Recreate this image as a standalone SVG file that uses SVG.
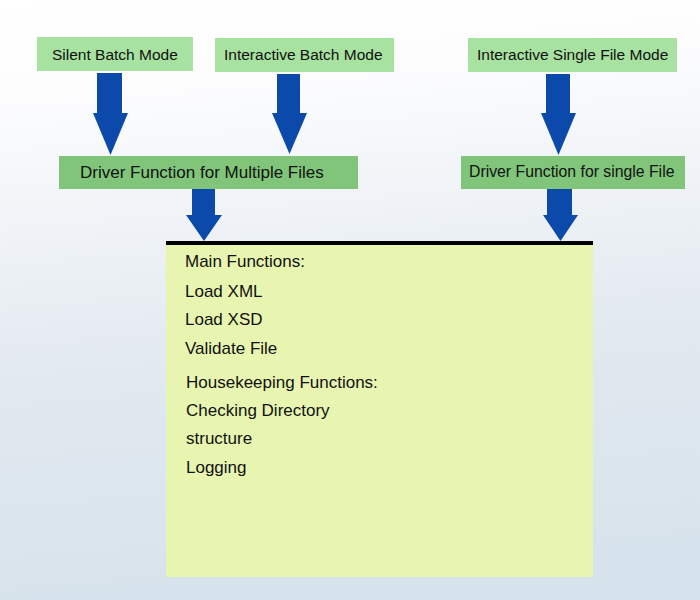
<svg xmlns="http://www.w3.org/2000/svg" width="700" height="600" viewBox="0 0 700 600">
<defs>
<linearGradient id="bg" x1="0" y1="0" x2="0.1" y2="1">
<stop offset="0" stop-color="#ffffff"/>
<stop offset="0.15" stop-color="#fdfdfe"/>
<stop offset="0.6" stop-color="#e3eaf0"/>
<stop offset="1" stop-color="#d7e3ec"/>
</linearGradient>
<style>
.mode{fill:#a8e2a0}
.drv{fill:#80c57a}
.arr{fill:#0b4aab}
text{font-family:"Liberation Sans",Arial,sans-serif;fill:#111}
.t1{font-size:15.5px}
.t2{font-size:17px}
.t3{font-size:16.5px}
</style>
</defs>
<rect x="0" y="0" width="700" height="600" fill="url(#bg)"/>
<g id="silent-batch"><rect class="mode" x="37" y="37" width="156" height="34"/><text class="t1" x="52" y="60">Silent Batch Mode</text></g>
<g id="interactive-batch"><rect class="mode" x="215" y="38" width="179" height="34"/><text class="t1" x="224" y="60">Interactive Batch Mode</text></g>
<g id="interactive-single"><rect class="mode" x="468" y="38" width="209" height="34"/><text class="t1" x="477" y="60">Interactive Single File Mode</text></g>
<g id="driver-multiple"><rect class="drv" x="59" y="156" width="299" height="33"/><text class="t2" x="80" y="178">Driver Function for Multiple Files</text></g>
<g id="driver-single"><rect class="drv" x="461" y="156" width="224" height="33"/><text class="t1" x="469" y="177" style="font-size:15.8px">Driver Function for single File</text></g>
<g id="main">
<rect x="166" y="241" width="427" height="336" fill="#e8f5b0"/>
<rect x="166" y="241" width="427" height="4" fill="#000"/>
<text class="t2" x="185" y="267">Main Functions:</text>
<text class="t2" x="185" y="297">Load XML</text>
<text class="t2" x="185" y="325">Load XSD</text>
<text class="t2" x="185" y="354">Validate File</text>
<text class="t2" x="186" y="388">Housekeeping Functions:</text>
<text class="t2" x="186" y="416">Checking Directory</text>
<text class="t2" x="186" y="444">structure</text>
<text class="t2" x="186" y="473">Logging</text>
</g>
<g id="connectors">
<polygon class="arr" points="97,73 122,73 122,113 128,113 110.5,155 93,113 97,113"/>
<polygon class="arr" points="277,74 300,74 300,113 307,113 289.5,154 272,113 277,113"/>
<polygon class="arr" points="546,74 570,74 570,113 576,113 558.5,155 541,113 546,113"/>
<polygon class="arr" points="192,189 215,189 215,215 222,215 204,241 186,215 192,215"/>
<polygon class="arr" points="547,189 572,189 572,215 578,215 560.5,241 543,215 547,215"/>
</g>
</svg>
